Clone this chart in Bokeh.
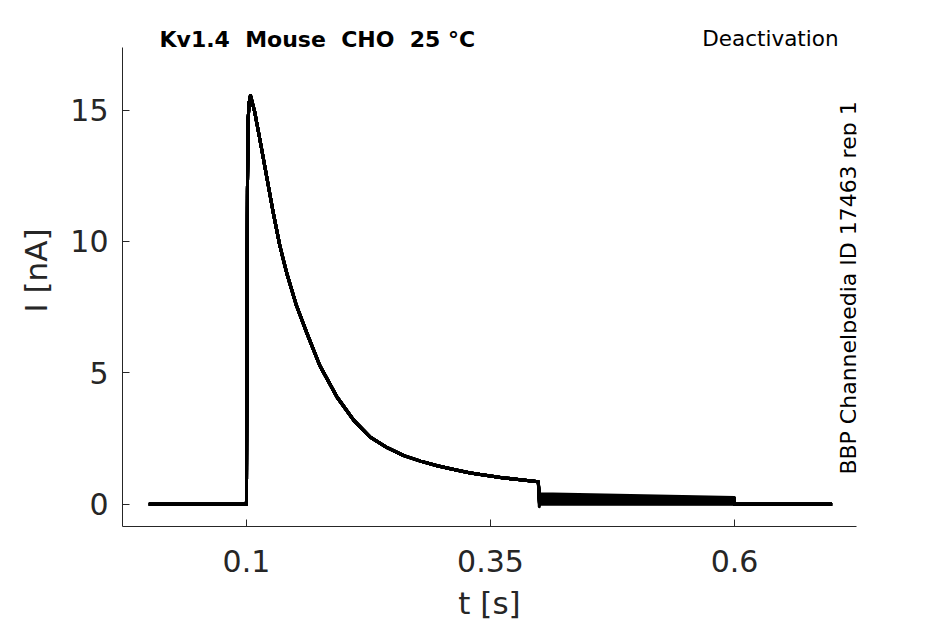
import math
from bokeh.plotting import figure
from bokeh.models import Label, FixedTicker, Range1d
from bokeh.embed import file_html
from bokeh.resources import INLINE

# ---- data ----
pulse_t = [0.0, 0.0995, 0.1000, 0.1010, 0.1018, 0.1028, 0.1041, 0.1085, 0.1136,
           0.1205, 0.1273, 0.1341, 0.1410, 0.1512, 0.1615, 0.1751, 0.1929,
           0.2100, 0.2270, 0.2442, 0.2612, 0.2783, 0.2954, 0.3124, 0.3295,
           0.3466, 0.3636, 0.3807, 0.3990]
pulse_i = [0.0, 0.0, 0.0, 12.0, 14.7, 15.3, 15.56, 14.92, 13.91,
           12.51, 11.12, 9.85, 8.83, 7.56, 6.55, 5.28, 4.07,
           3.19, 2.55, 2.15, 1.85, 1.64, 1.46, 1.32, 1.19,
           1.09, 1.00, 0.93, 0.85]
tail_t = [0.4, 0.4005, 0.6]
tail_start = [0.40, 0.36, 0.33, 0.30, 0.27, 0.24, 0.21, 0.18, 0.15, 0.12, 0.09, 0.06, 0.03, -0.10]
tail_settle = [0.40, 0.36, 0.33, 0.30, 0.27, 0.24, 0.21, 0.18, 0.15, 0.12, 0.09, 0.06, 0.03, 0.0]
tail_end = [0.25, 0.23, 0.21, 0.19, 0.17, 0.15, 0.13, 0.11, 0.09, 0.07, 0.05, 0.03, 0.02, 0.0]
end_t = 0.7

x_ticks = [0.1, 0.35, 0.6]
x_tick_labels = ["0.1", "0.35", "0.6"]
y_ticks = [0, 5, 10, 15]

title_text = "Kv1.4\u00a0 Mouse\u00a0 CHO\u00a0 25 °C"
protocol_text = "Deactivation"
source_text = "BBP Channelpedia ID 17463 rep 1"

FONT = "DejaVu Sans"
TXT = "#262626"

Y_BOTTOM, Y_AXIS_TOP, Y_FRAME_TOP = -0.85, 17.39, 18.64

p = figure(width=945, height=624, output_backend="svg", toolbar_location=None,
           x_range=Range1d(-0.027, 0.725), y_range=Range1d(Y_BOTTOM, Y_FRAME_TOP),
           min_border_left=122, min_border_right=89, min_border_top=14,
           min_border_bottom=98)
p.outline_line_color = None
p.grid.visible = False
p.background_fill_color = "white"
p.border_fill_color = "white"

xs, ys = [], []
for a, s, b in zip(tail_start, tail_settle, tail_end):
    xs.append(pulse_t + [tail_t[0], tail_t[1], tail_t[2], tail_t[2], end_t])
    ys.append(pulse_i + [a, s, b, 0.0, 0.0])
p.multi_line(xs, ys, line_color="black", line_width=3, line_join="round")

for ax in (p.xaxis[0], p.yaxis[0]):
    ax.axis_line_color = TXT
    ax.axis_line_width = 1
    ax.major_tick_line_color = TXT
    ax.major_tick_in = 7
    ax.major_tick_out = 0
    ax.minor_tick_line_color = None
    ax.major_label_text_font = FONT
    ax.major_label_text_font_size = "30px"
    ax.major_label_text_color = TXT
    ax.axis_label_text_font = FONT
    ax.axis_label_text_font_size = "31px"
    ax.axis_label_text_color = TXT
    ax.axis_label_text_font_style = "normal"

p.yaxis.bounds = (Y_BOTTOM, Y_AXIS_TOP)
p.xaxis.ticker = FixedTicker(ticks=x_ticks)
p.xaxis.major_label_overrides = {t: s for t, s in zip(x_ticks, x_tick_labels)}
p.yaxis.ticker = FixedTicker(ticks=y_ticks)
p.xaxis.axis_label = "t [s]"
p.yaxis.axis_label = "I [nA]"
p.xaxis.major_label_standoff = 23
p.xaxis.axis_label_standoff = 10
p.yaxis.major_label_standoff = 14
p.yaxis.axis_label_standoff = 13

p.add_layout(Label(x=0.0109, y=17.68, text=title_text, text_font=FONT,
                   text_font_size="22px", text_font_style="bold",
                   text_color="black", text_baseline="alphabetic",
                   text_align="left"))
p.add_layout(Label(x=0.7066, y=17.74, text=protocol_text, text_font=FONT,
                   text_font_size="21.5px", text_color="black",
                   text_baseline="alphabetic", text_align="right"))
p.add_layout(Label(x=0.7168, y=8.23, text=source_text, text_font=FONT,
                   text_font_size="22px", text_color="black",
                   text_baseline="middle", text_align="center",
                   angle=math.pi / 2))

open("out.html", "w").write(file_html(p, INLINE))
